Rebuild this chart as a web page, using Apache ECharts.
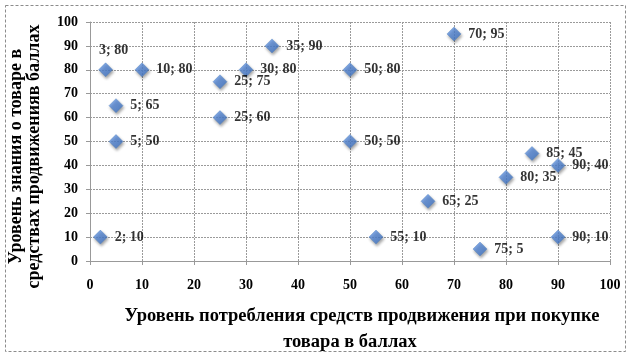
<!DOCTYPE html>
<html><head><meta charset="utf-8">
<script src="https://cdn.jsdelivr.net/npm/echarts@6/dist/echarts.min.js"></script>
<style>html,body{margin:0;padding:0;background:#fff}#c{width:635px;height:358px}</style>
</head><body><div id="c"></div>
<script>
const xValues = [3, 10, 5, 5, 25, 25, 30, 35, 50, 50, 70, 85, 90, 80, 65, 55, 75, 90, 2];
const yValues = [80, 80, 65, 50, 75, 60, 80, 90, 80, 50, 95, 45, 40, 35, 25, 10, 5, 10, 10];
const xTicks = [0, 10, 20, 30, 40, 50, 60, 70, 80, 90, 100];
const yTicks = [0, 10, 20, 30, 40, 50, 60, 70, 80, 90, 100];
const xTitleLines = ['Уровень потребления средств продвижения при покупке', 'товара в баллах'];
const yTitleLines = ['Уровень знания о товаре в', 'средствах продвиженияв баллах'];

const F = '"Liberation Serif","DejaVu Serif",serif';
const pts = xValues.map((x, i) => {
  const p = { value: [x, yValues[i]] };
  if (x === 3 && yValues[i] === 80) p.label = { position: 'top', distance: 5, offset: [8, 0] };
  return p;
});
const chart = echarts.init(document.getElementById('c'));
chart.setOption({
  animation: false,
  backgroundColor: '#fff',
  graphic: [{
    type: 'rect', shape: { x: 5.5, y: 5.5, width: 620, height: 346 },
    style: { fill: 'none', stroke: '#8c8c8c', lineWidth: 1, lineDash: [3, 2] },
    z: -1
  }],
  grid: { left: 90, right: 25, top: 22, bottom: 97, containLabel: false, outerBoundsMode: 'none' },
  xAxis: {
    type: 'value', min: 0, max: 100, interval: 10,
    axisLine: { show: true, lineStyle: { color: '#999' } },
    axisTick: { show: true, length: 4, lineStyle: { color: '#999' } },
    axisLabel: { color: '#000', fontFamily: F, fontWeight: 'bold', fontSize: 14, margin: 17,
      formatter: v => xTicks.includes(v) ? String(v) : '' },
    splitLine: { show: true, lineStyle: { color: '#9a9a9a', type: [2, 1] } },
    name: '{a|' + xTitleLines[0] + '}\n{b|' + xTitleLines[1] + '}',
    nameLocation: 'middle', nameGap: 42,
    nameTextStyle: { color: '#000', fontFamily: F, fontWeight: 'bold', fontSize: 18.5, lineHeight: 26,
      rich: {
        a: { color: '#000', fontFamily: F, fontWeight: 'bold', fontSize: 18.5, lineHeight: 26, padding: [0, 0, 0, 24] },
        b: { color: '#000', fontFamily: F, fontWeight: 'bold', fontSize: 18.5, lineHeight: 26 }
      } }
  },
  yAxis: {
    type: 'value', min: 0, max: 100, interval: 10,
    axisLine: { show: true, lineStyle: { color: '#999' } },
    axisTick: { show: true, length: 4, lineStyle: { color: '#999' } },
    axisLabel: { color: '#000', fontFamily: F, fontWeight: 'bold', fontSize: 14, margin: 12,
      formatter: v => yTicks.includes(v) ? String(v) : '' },
    splitLine: { show: true, lineStyle: { color: '#9a9a9a', type: [2, 1] } },
    name: yTitleLines.join('\n'), nameLocation: 'middle', nameGap: 47, nameRotate: 90,
    nameTextStyle: { color: '#000', fontFamily: F, fontWeight: 'bold', fontSize: 18, lineHeight: 18,
      padding: [0, 30, 0, 0] }
  },
  series: [{
    type: 'scatter',
    symbol: 'diamond',
    symbolSize: 14,
    data: pts,
    itemStyle: {
      color: new echarts.graphic.LinearGradient(0, 0, 1, 1, [
        { offset: 0, color: '#6d9eeb' }, { offset: 1, color: '#3a6fc0' }
      ]),
      borderColor: '#4a7ebb', borderWidth: 0.5,
      shadowColor: 'rgba(0,0,0,0.45)', shadowBlur: 3, shadowOffsetX: 1, shadowOffsetY: 2
    },
    label: {
      show: true, position: 'right', distance: 7,
      formatter: p => p.value[0] + '; ' + p.value[1],
      color: '#000', fontFamily: F, fontWeight: 'bold', fontSize: 14
    }
  }]
});
</script></body></html>
